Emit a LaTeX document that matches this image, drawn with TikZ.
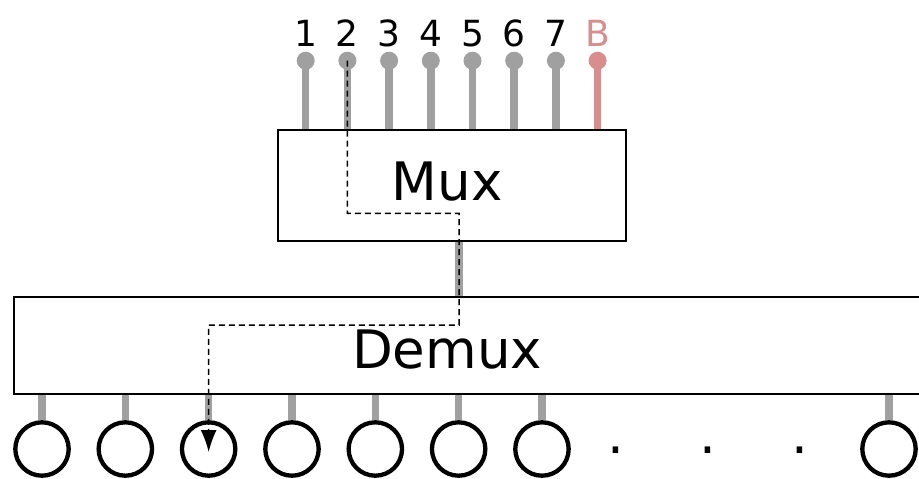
\documentclass[tikz,border=0pt]{standalone}
\usepackage{fontspec}
\setmainfont{DejaVu Sans}
\usepackage{tikz}
\usetikzlibrary{arrows.meta,calc}
\usepackage{xcolor}
\definecolor{pingrey}{RGB}{160,160,160}
\definecolor{pinrose}{RGB}{217,142,142}

\begin{document}
\begin{tikzpicture}[x=1pt, y=-1pt,
    blockbox/.style={rectangle, draw=black, line width=2.3pt, inner sep=0pt},
    blocklbl/.style={inner sep=0pt, anchor=base, font=\fontsize{53}{60}\selectfont},
    pinball/.style={circle, fill=pingrey, minimum size=18pt, inner sep=0pt},
    pinlbl/.style={inner sep=0pt, anchor=base, font=\fontsize{36}{40}\selectfont},
    stem/.style={line width=7.5pt, pingrey},
    outnode/.style={circle, draw=black, line width=4.3pt, minimum size=53.4pt, inner sep=0pt},
    flow/.style={-{Latex[length=22pt,width=16pt]}, line width=1.5pt, dash pattern=on 6pt off 4pt}
]
    \clip (0,0) rectangle (919,479);

    % blocks
    \node[blockbox, minimum width=348pt, minimum height=111pt] (mux) at (452,185.5) {};
    \node[blocklbl] (muxlbl) at (447,200) {Mux};
    \node[blockbox, minimum width=930pt, minimum height=97pt] (demux) at (479,345.5) {};
    \node[blocklbl] (demuxlbl) at (447,368) {Demux};

    % input pins
    \foreach \i in {1,...,7} {
        \node[pinball] (pin\i) at ({305.7+(\i-1)*41.7},60.7) {};
        \draw[stem] (pin\i.center) -- (pin\i.center |- mux.north);
        \node[pinlbl] (plbl\i) at ({305.7+(\i-1)*41.7},46) {\i};
    }
    \node[pinball, fill=pinrose] (pinB) at (597.6,60.7) {};
    \draw[stem, pinrose] (pinB.center) -- (pinB.center |- mux.north);
    \node[pinlbl, text=pinrose] (plblB) at (597.6,46) {B};

    % outputs
    \foreach \i in {1,...,7} {
        \node[outnode] (out\i) at ({42+(\i-1)*83.33},449) {};
        \draw[stem] (out\i.north |- demux.south) -- (out\i.north);
    }
    \node[outnode] (out8) at (889,449) {};
    \draw[stem] (out8.north |- demux.south) -- (out8.north);
    \node[blocklbl] (dot1) at (615.5,453.2) {.};
    \node[blocklbl] (dot2) at (707.5,453.2) {.};
    \node[blocklbl] (dot3) at (799.5,453.2) {.};

    % mux -> demux link
    \coordinate (j1) at (459,213.3);
    \coordinate (j2) at (208.7,325);
    \draw[stem] (mux.south -| j1) -- (demux.north -| j1);

    % selected path
    \draw[flow, shorten >=-3pt] (pin2.center) |- (j1) |- (j2) -- (out3.center);
\end{tikzpicture}
\end{document}
